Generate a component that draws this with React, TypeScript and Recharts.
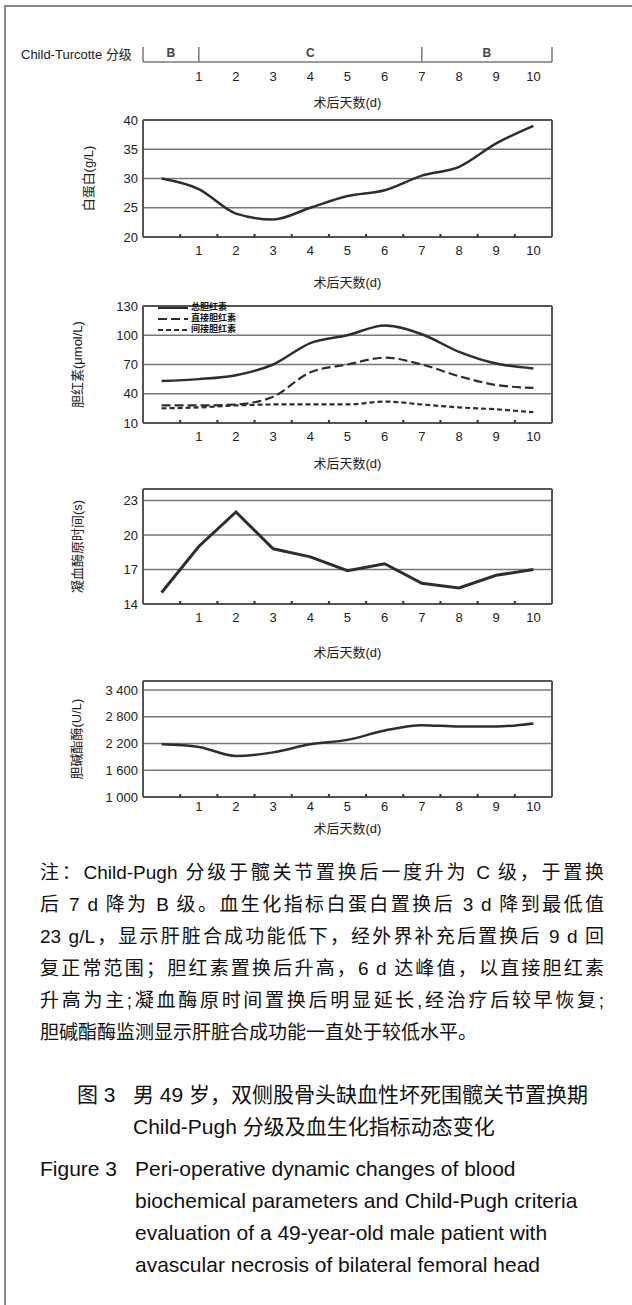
import React from "react";
import { LineChart, Line, XAxis, YAxis, CartesianGrid, Legend } from "recharts";

// days after surgery (0 = day of surgery, no label)
const days = [0, 1, 2, 3, 4, 5, 6, 7, 8, 9, 10];
const dayTicks = [1, 2, 3, 4, 5, 6, 7, 8, 9, 10];
const dayEdges = [0.5, 1.5, 2.5, 3.5, 4.5, 5.5, 6.5, 7.5, 8.5, 9.5];

// Child-Turcotte grade periods
const gradeBounds = [-0.5, 1, 7, 10.5];
const gradeNames = ["B", "C", "B"];

const albumin = [30, 28.2, 24, 23, 25, 27, 28, 30.5, 32, 36, 39];
const totalBil = [53, 55, 59, 70, 92, 100, 110, 101, 83, 71, 66];
const directBil = [28, 28, 29, 37, 62, 70, 77, 70, 58, 49, 46];
const indirectBil = [25, 26, 28, 29, 29, 29, 32, 29, 26, 24, 21];
const ptTime = [15, 19, 22, 18.8, 18.1, 16.9, 17.5, 15.8, 15.4, 16.5, 17];
const cholinesterase = [2180, 2120, 1920, 2000, 2180, 2280, 2490, 2610, 2580, 2580, 2650];

const albTicks = [20, 25, 30, 35, 40];
const bilTicks = [10, 40, 70, 100, 130];
const ptTicks = [14, 17, 20, 23];
const cheTicks = [1000, 1600, 2200, 2800, 3400];

const noteLines = [
  "注：Child-Pugh 分级于髋关节置换后一度升为 C 级，于置换",
  "后 7 d 降为 B 级。血生化指标白蛋白置换后 3 d 降到最低值",
  "23 g/L，显示肝脏合成功能低下，经外界补充后置换后 9 d 回",
  "复正常范围；胆红素置换后升高，6 d 达峰值，以直接胆红素",
  "升高为主;凝血酶原时间置换后明显延长,经治疗后较早恢复;",
  "胆碱酯酶监测显示肝脏合成功能一直处于较低水平。",
];
const captionCn = ["男 49 岁，双侧股骨头缺血性坏死围髋关节置换期", "Child-Pugh 分级及血生化指标动态变化"];
const captionEn = [
  "Peri-operative dynamic changes of blood",
  "biochemical parameters and Child-Pugh criteria",
  "evaluation of a 49-year-old male patient with",
  "avascular necrosis of bilateral femoral head",
];

const FONT = '"Liberation Sans", Arial, "Noto Sans CJK SC", sans-serif';
const X_DOMAIN: [number, number] = [-0.5, 10.5];
const frameLine = { stroke: "#555", strokeWidth: 2 };
const tickStyle = { fill: "#222", fontSize: 13 };
const xTitle = { value: "术后天数(d)", position: "insideBottom", offset: 0, fill: "#222", fontSize: 13 } as any;
const noLabel = () => "";

const dayRows = days.map((day) => ({ day }));
const gradeMids = gradeNames.map((_, i) => (gradeBounds[i] + gradeBounds[i + 1]) / 2);
const albData = days.map((day, i) => ({ day, albumin: albumin[i] }));
const bilData = days.map((day, i) => ({ day, total: totalBil[i], direct: directBil[i], indirect: indirectBil[i] }));
const ptData = days.map((day, i) => ({ day, pt: ptTime[i] }));
const cheData = days.map((day, i) => ({ day, che: cholinesterase[i] }));

type SeriesDef = { key: string; name: string; width: number; dash?: string; curve: "linear" | "monotone" };

function BilLegend({ payload }: any) {
  return (
    <div>
      {(payload || []).map((e: any) => (
        <div key={e.value} style={{ display: "flex", alignItems: "center", height: 11 }}>
          <svg width={32} height={6}>
            <line x1={1} y1={3} x2={31} y2={3} stroke={e.color} strokeWidth={2} strokeDasharray={e.payload?.strokeDasharray} />
          </svg>
          <span style={{ fontSize: 9, fontWeight: 700, marginLeft: 2, color: "#111", lineHeight: "11px" }}>{e.value}</span>
        </div>
      ))}
    </div>
  );
}

function Panel(props: {
  plotTop: number; plotH: number; tickGap: number; titleGap: number; data: any[];
  yDomain: [number, number]; yTicks: number[]; yLabel: string; labelX: number;
  series: SeriesDef[]; yFormat?: (v: number) => string; legend?: boolean;
}) {
  const { plotTop, plotH, tickGap, titleGap, data, yDomain, yTicks, yLabel, labelX, series, yFormat, legend } = props;
  const xH = titleGap + 4.6;
  return (
    <div style={{ position: "absolute", left: 0, top: plotTop - 10 }}>
      <LineChart width={632} height={10 + plotH + xH + 6} data={data} margin={{ top: 9, right: 79, bottom: 6, left: 83 }}>
        <CartesianGrid vertical={false} stroke="#777" strokeWidth={1.5} />
        <XAxis xAxisId="top" orientation="top" type="number" dataKey="day" domain={X_DOMAIN} ticks={dayTicks}
          height={1} tickFormatter={noLabel} tickLine={false} axisLine={frameLine} />
        <XAxis type="number" dataKey="day" domain={X_DOMAIN} ticks={dayTicks} interval={0} height={xH}
          tickLine={false} tickSize={0} tickMargin={tickGap - 4.6} tick={tickStyle} axisLine={frameLine} label={xTitle} />
        <XAxis xAxisId="edge" type="number" dataKey="day" domain={X_DOMAIN} ticks={dayEdges} interval={0} mirror height={1}
          tickFormatter={noLabel} tickSize={3} tickLine={{ stroke: "#333", strokeWidth: 2 }} axisLine={false} />
        <YAxis type="number" domain={yDomain} ticks={yTicks} interval={0} width={60} tickLine={false} tickSize={0}
          tickMargin={5} tick={tickStyle} tickFormatter={yFormat} axisLine={frameLine}
          label={{ value: yLabel, angle: -90, position: "insideLeft", offset: labelX - 83, fill: "#222", fontSize: 13, style: { textAnchor: "middle" } }} />
        <YAxis yAxisId="r" orientation="right" type="number" domain={yDomain} ticks={yTicks} width={1}
          tickFormatter={noLabel} tickLine={false} axisLine={frameLine} />
        {legend && (
          <Legend layout="vertical" align="center" verticalAlign="middle" content={(p: any) => <BilLegend {...p} />}
            wrapperStyle={{ left: 157, top: 6, width: 110 }} />
        )}
        {series.map((s) => (
          <Line key={s.key} type={s.curve} dataKey={s.key} name={s.name} stroke="#2e2e2e" strokeWidth={s.width}
            strokeDasharray={s.dash} dot={false} legendType="plainline" isAnimationActive={false} />
        ))}
      </LineChart>
    </div>
  );
}

function GradeBar() {
  const xH = 40 + 4.6;
  return (
    <div style={{ position: "absolute", left: 0, top: 45 }}>
      <LineChart width={632} height={2 + 15 + xH + 6} data={dayRows} margin={{ top: 2, right: 80, bottom: 6, left: 143 }}>
        <XAxis xAxisId="grade" orientation="top" mirror type="number" dataKey="day" domain={X_DOMAIN} ticks={gradeMids}
          interval={0} height={1} tickLine={false} axisLine={false} tickSize={0} tickMargin={1}
          tickFormatter={(_v: number, i: number) => gradeNames[i]} tick={{ fill: "#444", fontSize: 12, fontWeight: 700 }} />
        <XAxis type="number" dataKey="day" domain={X_DOMAIN} ticks={dayTicks} interval={0} height={xH}
          tickLine={false} tickSize={0} tickMargin={14 - 4.6} tick={tickStyle}
          axisLine={{ stroke: "#777", strokeWidth: 1.5 }} label={xTitle} />
        <XAxis xAxisId="bounds" mirror type="number" dataKey="day" domain={X_DOMAIN} ticks={gradeBounds} interval={0}
          height={1} tickFormatter={noLabel} tickSize={15} tickLine={{ stroke: "#777", strokeWidth: 1.5 }} axisLine={false} />
        <YAxis hide type="number" domain={[0, 1]} />
      </LineChart>
    </div>
  );
}

const cheFormat = (v: number) => `${Math.floor(v / 1000)} ${String(v % 1000).padStart(3, "0")}`;

export default function App() {
  return (
    <div style={{ position: "absolute", left: 0, top: 0, width: 632, height: 1305, background: "#fff", fontFamily: FONT, color: "#111", overflow: "hidden" }}>
      <div style={{ position: "absolute", left: 4, top: 5, width: 628, height: 2, background: "#888" }} />
      <div style={{ position: "absolute", left: 4, top: 5, width: 2, height: 1300, background: "#888" }} />

      <div style={{ position: "absolute", left: 21, top: 46, fontSize: 13, lineHeight: "18px", color: "#222" }}>Child-Turcotte 分级</div>
      <GradeBar />

      <Panel plotTop={120} plotH={117} tickGap={13} titleGap={45} data={albData} yDomain={[20, 40]} yTicks={albTicks}
        yLabel="白蛋白(g/L)" labelX={88} series={[{ key: "albumin", name: "白蛋白", width: 2.5, curve: "monotone" }]} />

      <Panel plotTop={306} plotH={117} tickGap={13} titleGap={40} data={bilData} yDomain={[10, 130]} yTicks={bilTicks}
        yLabel="胆红素(μmol/L)" labelX={77} legend
        series={[
          { key: "total", name: "总胆红素", width: 2.5, curve: "monotone" },
          { key: "direct", name: "直接胆红素", width: 2.2, dash: "9 4", curve: "monotone" },
          { key: "indirect", name: "间接胆红素", width: 2.2, dash: "5 3", curve: "monotone" },
        ]} />

      <Panel plotTop={489} plotH={115} tickGap={13} titleGap={48} data={ptData} yDomain={[14, 24]} yTicks={ptTicks}
        yLabel="凝血酶原时间(s)" labelX={77} series={[{ key: "pt", name: "凝血酶原时间", width: 3, curve: "linear" }]} />

      <Panel plotTop={681} plotH={116} tickGap={9} titleGap={31} data={cheData} yDomain={[1000, 3600]} yTicks={cheTicks}
        yLabel="胆碱酯酶(U/L)" labelX={76} yFormat={cheFormat}
        series={[{ key: "che", name: "胆碱酯酶", width: 2.5, curve: "monotone" }]} />

      <div style={{ position: "absolute", left: 40, top: 857, width: 564, fontSize: 19, lineHeight: "32px" }}>
        {noteLines.map((t, i) => (
          <div key={i} style={{ textAlign: i < noteLines.length - 1 ? "justify" : "left", textAlignLast: i < noteLines.length - 1 ? "justify" : "left", whiteSpace: "nowrap" }}>{t}</div>
        ))}
      </div>

      <div style={{ position: "absolute", left: 77, top: 1079, fontSize: 21, lineHeight: "32px" }}>图 3</div>
      <div style={{ position: "absolute", left: 133, top: 1079, fontSize: 21, lineHeight: "32px" }}>
        {captionCn.map((t, i) => <div key={i}>{t}</div>)}
      </div>

      <div style={{ position: "absolute", left: 40, top: 1153, fontSize: 21, lineHeight: "32px" }}>Figure 3</div>
      <div style={{ position: "absolute", left: 135, top: 1153, fontSize: 21, lineHeight: "32px" }}>
        {captionEn.map((t, i) => <div key={i}>{t}</div>)}
      </div>
    </div>
  );
}
